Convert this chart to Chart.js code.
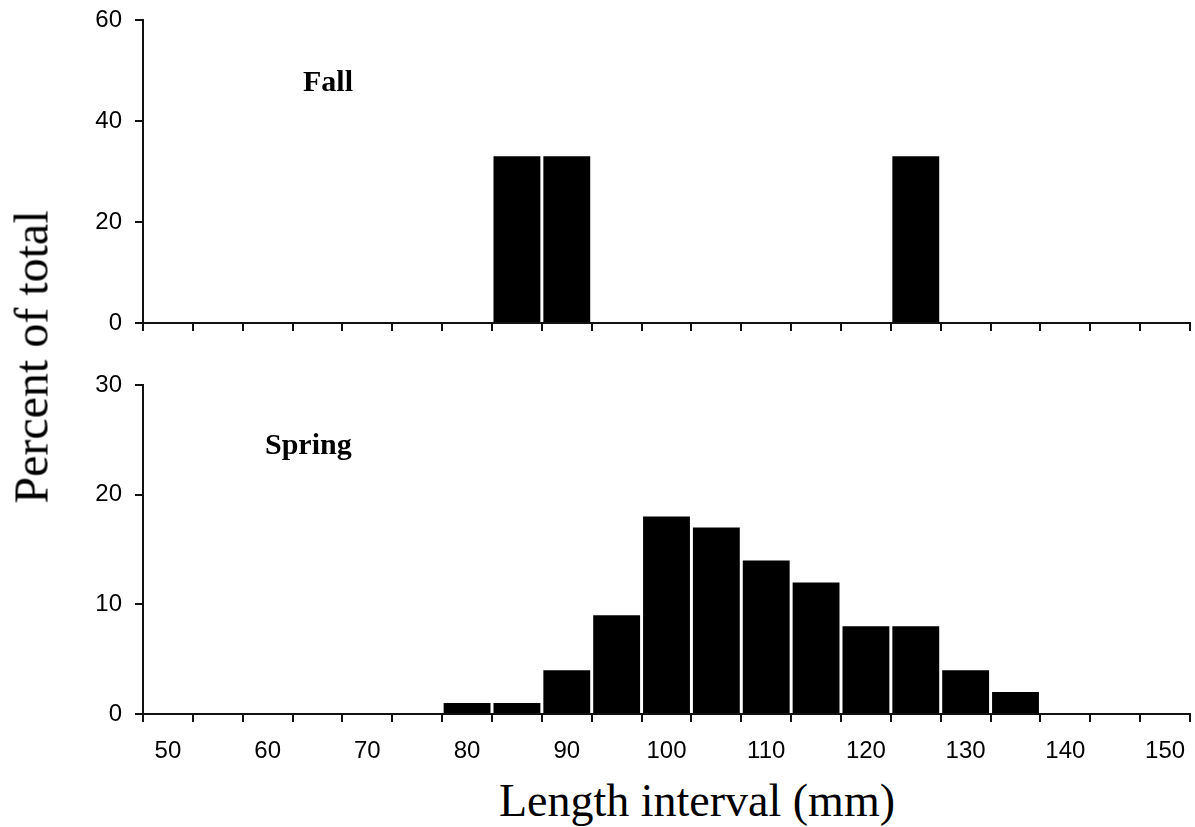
<!DOCTYPE html>
<html>
<head>
<meta charset="utf-8">
<script src="https://cdn.jsdelivr.net/npm/chart.js@4/dist/chart.umd.min.js"></script>
<style>
  html, body { margin: 0; padding: 0; background: #fff; }
  #wrap { position: relative; width: 1195px; height: 827px; overflow: hidden; }
  .box { position: absolute; left: 0; width: 1195px; }
  .lbl { position: absolute; font-family: "Liberation Serif", "Times New Roman", serif; color: #000; white-space: nowrap; }
</style>
</head>
<body>
<div id="wrap">
  <div class="box" style="top:0;height:340px;"><canvas id="chartFall"></canvas></div>
  <div class="box" style="top:360px;height:400px;"><canvas id="chartSpring"></canvas></div>
  <div class="lbl" style="left:303px;top:64px;font-size:30px;font-weight:bold;">Fall</div>
  <div class="lbl" style="left:265px;top:427px;font-size:30px;font-weight:bold;">Spring</div>
  <div class="lbl" style="left:697px;top:774px;font-size:46px;transform:translateX(-50%);">Length interval (mm)</div>
  <div class="lbl" style="left:31px;top:357px;font-size:48px;transform:translate(-50%,-50%) rotate(-90deg);">Percent of total</div>
</div>
<script>
  // Clases de longitud (mm), cada 5 mm
  const lengthBins = [50, 55, 60, 65, 70, 75, 80, 85, 90, 95, 100, 105, 110, 115, 120, 125, 130, 135, 140, 145, 150];
  const fallPercent = [0, 0, 0, 0, 0, 0, 0, 33, 33, 0, 0, 0, 0, 0, 0, 33, 0, 0, 0, 0, 0];
  const springPercent = [0, 0, 0, 0, 0, 0, 1, 1, 4, 9, 18, 17, 14, 12, 8, 8, 4, 2, 0, 0, 0];
  const fallTicks = [0, 20, 40, 60];
  const springTicks = [0, 10, 20, 30];

  const tickFont = { family: 'Liberation Sans, Arial, sans-serif', size: 24 };

  function build(canvasId, values, yTicks, opts) {
    const ctx = document.getElementById(canvasId).getContext('2d');
    return new Chart(ctx, {
      type: 'bar',
      data: {
        labels: lengthBins.map(String),
        datasets: [{
          data: values,
          backgroundColor: '#000',
          borderWidth: 0,
          barPercentage: 1,
          categoryPercentage: 0.94
        }]
      },
      options: {
        responsive: true,
        maintainAspectRatio: false,
        animation: false,
        layout: { padding: { top: opts.padTop, right: 5, left: 0, bottom: 0 } },
        plugins: { legend: { display: false }, tooltip: { enabled: false } },
        scales: {
          x: {
            offset: true,
            grid: { offset: true, drawOnChartArea: false, drawTicks: true, tickLength: 8, color: '#111', lineWidth: 2 },
            border: { display: true, color: '#111', width: 2 },
            ticks: {
              display: opts.showX,
              autoSkip: false,
              maxRotation: 0,
              color: '#000',
              font: tickFont,
              padding: 15,
              callback: function(v, i) { return i % 2 === 0 ? lengthBins[i] : ''; }
            },
            afterFit: function(scale) {
              scale.height = opts.xHeight;
              scale.paddingLeft = 0;
              scale.paddingRight = 0;
            }
          },
          y: {
            min: yTicks[0],
            max: yTicks[yTicks.length - 1],
            afterBuildTicks: function(scale) { scale.ticks = yTicks.map(v => ({ value: v })); },
            grid: { drawOnChartArea: false, drawTicks: true, tickLength: 8, color: '#111', lineWidth: 2 },
            border: { display: true, color: '#111', width: 2 },
            ticks: { color: '#000', font: tickFont, padding: 13 },
            afterFit: function(scale) {
              scale.width = 143;
              scale.paddingTop = 0;
              scale.paddingBottom = 0;
            }
          }
        }
      }
    });
  }

  build('chartFall', fallPercent, fallTicks, { padTop: 20, showX: false, xHeight: 17 });
  build('chartSpring', springPercent, springTicks, { padTop: 25, showX: true, xHeight: 46 });
</script>
</body>
</html>
